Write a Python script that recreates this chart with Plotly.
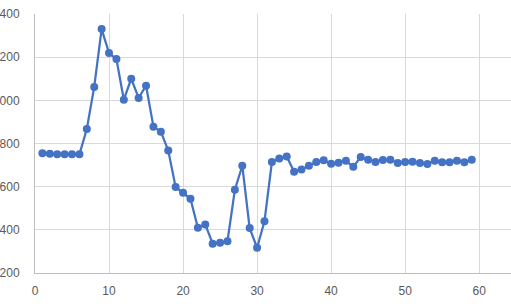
import plotly.graph_objects as go

x_vals = list(range(1, 60))
y_vals = [755, 752, 750, 750, 750, 750, 867, 1062, 1330, 1219, 1191, 1003, 1100, 1011, 1068,
          878, 855, 767, 598, 572, 544, 410, 425, 336, 340, 347, 586, 697, 408, 317,
          440, 714, 730, 740, 669, 679, 697, 714, 722, 706, 711, 720, 692, 737, 725,
          714, 724, 725, 710, 714, 716, 710, 705, 720, 713, 713, 720, 713, 725]
x_ticks = [0, 10, 20, 30, 40, 50, 60]
y_ticks = [200, 400, 600, 800, 1000, 1200, 1400]

fig = go.Figure()
fig.add_trace(go.Scatter(
    x=x_vals, y=y_vals, mode="lines+markers",
    line=dict(color="#4472C4", width=2.25),
    marker=dict(color="#4472C4", size=8),
))

fig.update_layout(
    width=511, height=306,
    margin=dict(l=35, r=0, t=14, b=33, autoexpand=False),
    paper_bgcolor="white", plot_bgcolor="white",
    showlegend=False,
    font=dict(family="Liberation Sans, Arial", size=12, color="#595959"),
)
fig.update_xaxes(
    range=[0, 64.3], tickvals=x_ticks, ticktext=[str(v) for v in x_ticks],
    showgrid=True, gridcolor="#d9d9d9", gridwidth=1,
    showline=True, linecolor="#bfbfbf", linewidth=1,
    ticks="outside", ticklen=7, tickcolor="rgba(0,0,0,0)",
    zeroline=False, automargin=False,
)
fig.update_yaxes(
    range=[200, 1400], tickvals=y_ticks, ticktext=[str(v) for v in y_ticks],
    showgrid=True, gridcolor="#d9d9d9", gridwidth=1,
    showline=True, linecolor="#bfbfbf", linewidth=1,
    ticks="outside", ticklen=12, tickcolor="rgba(0,0,0,0)",
    zeroline=False, automargin=False,
)
fig.write_html("out.html")
